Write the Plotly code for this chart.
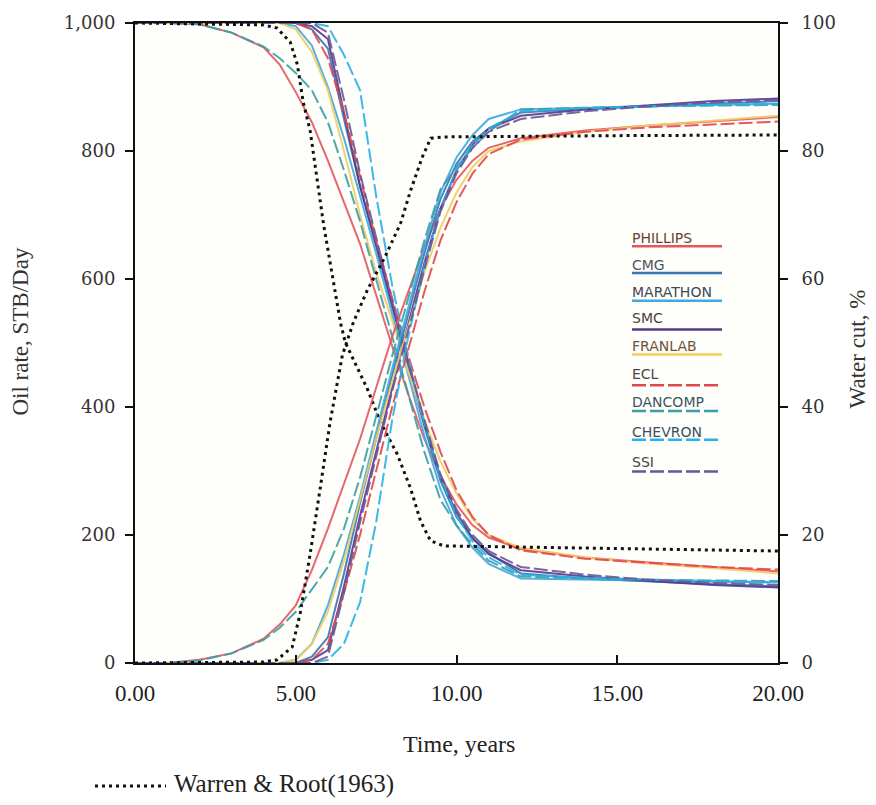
import plotly.graph_objects as go

# ---------------- data ----------------
T = [0, 1, 2, 3, 4, 4.5, 5, 5.5, 6, 6.5, 7, 7.5, 8, 8.5, 9, 9.5, 10, 10.5, 11, 12, 14, 16, 18, 20]

PHILLIPS_OIL = [1000, 1000, 998, 985, 962, 935, 892, 845, 785, 720, 655, 575, 495, 420, 350, 292, 248, 215, 196, 178, 165, 157, 150, 143]
PHILLIPS_WC = [0, 0, 0.5, 1.5, 3.8, 6, 9, 14.5, 21, 28, 35, 43, 51, 58, 65, 71, 75.5, 78.5, 80.5, 82, 83.2, 84, 84.7, 85.3]

CMG_OIL = [1000, 1000, 1000, 1000, 1000, 1000, 1000, 990, 960, 850, 745, 650, 555, 462, 370, 285, 228, 195, 172, 140, 132, 127, 123, 120]
CMG_WC = [0, 0, 0, 0, 0, 0, 0, 1, 4, 14, 25, 35, 45, 54.5, 64, 72.5, 78, 81.5, 83.5, 86, 86.6, 87, 87.4, 87.8]

MARATHON_OIL = [1000, 1000, 1000, 1000, 1000, 1000, 995, 965, 900, 820, 730, 640, 545, 450, 355, 272, 215, 180, 155, 132, 130, 128, 127, 126]
MARATHON_WC = [0, 0, 0, 0, 0, 0, 0.5, 3, 9, 17, 26, 36, 46, 55.5, 65, 73.5, 79, 82.5, 85, 86.5, 86.8, 87, 87.2, 87.4]

SMC_OIL = [1000, 1000, 1000, 1000, 1000, 1000, 1000, 995, 975, 860, 745, 655, 560, 470, 375, 290, 235, 195, 170, 145, 135, 128, 122, 118]
SMC_WC = [0, 0, 0, 0, 0, 0, 0, 0.5, 2, 12, 23, 33, 43, 53, 62.5, 71, 77, 81, 83.5, 85.5, 86.5, 87.2, 87.8, 88.2]

FRANLAB_OIL = [1000, 1000, 1000, 1000, 1000, 1000, 990, 955, 895, 800, 700, 610, 535, 455, 380, 315, 265, 225, 200, 180, 165, 155, 148, 140]
FRANLAB_WC = [0, 0, 0, 0, 0, 0, 0.5, 3, 8, 16, 25.5, 35, 44, 52.5, 61, 68, 73.5, 77.5, 80, 81.5, 83, 84, 84.8, 85.5]

ECL_OIL = [1000, 1000, 1000, 1000, 1000, 1000, 1000, 990, 945, 860, 760, 660, 570, 480, 400, 330, 270, 228, 200, 176, 163, 156, 150, 146]
ECL_WC = [0, 0, 0, 0, 0, 0, 0, 0.5, 3, 11, 20, 30, 40, 49, 58, 66, 72, 76.5, 79.5, 81.8, 83, 83.7, 84.2, 84.6]

DANCOMP_OIL = [1000, 1000, 998, 985, 963, 945, 922, 895, 845, 770, 690, 600, 510, 420, 330, 255, 215, 185, 160, 135, 132, 130, 129, 128]
DANCOMP_WC = [0, 0, 0.4, 1.5, 3.6, 5.5, 8, 11.5, 15, 21, 29, 38.5, 48, 57, 66, 74, 77.5, 80.5, 83, 86.5, 86.8, 87, 87.1, 87.2]

CHEVRON_OIL = [1000, 1000, 1000, 1000, 1000, 1000, 1000, 1000, 995, 950, 895, 730, 590, 475, 375, 290, 230, 190, 165, 138, 133, 130, 128, 126]
CHEVRON_WC = [0, 0, 0, 0, 0, 0, 0, 0, 0.5, 3, 9.5, 22, 38, 51, 62, 71, 77, 81, 83.5, 86.2, 86.7, 87, 87.2, 87.4]

SSI_OIL = [1000, 1000, 1000, 1000, 1000, 1000, 1000, 1000, 985, 880, 765, 665, 565, 470, 380, 295, 240, 200, 175, 150, 138, 130, 125, 122]
SSI_WC = [0, 0, 0, 0, 0, 0, 0, 0, 1, 11, 22, 32.5, 42.5, 52, 61.5, 70.5, 76.5, 80.5, 83, 85, 86.2, 87, 87.6, 88]

WR_T_OIL = [0, 4.0, 4.42, 4.83, 5.05, 5.23, 5.45, 5.86, 6.39, 6.54, 7.23, 7.63, 8.16, 8.57, 8.88, 9.19, 9.6, 12, 15, 20]
WR_OIL = [1000, 997, 992, 970, 935, 877, 831, 687, 532, 501, 428, 377, 326, 273, 222, 191, 183, 181, 179, 175]
WR_T_WC = [0, 3.99, 4.42, 4.89, 5.14, 5.45, 5.76, 6.07, 6.45, 6.79, 7.23, 7.79, 8.26, 8.57, 8.94, 9.2, 9.6, 12, 15, 20]
WR_WC = [0, 0.15, 0.5, 2.5, 7.8, 17.1, 27.3, 37.7, 48.1, 53.2, 58.3, 63.6, 68.7, 73.8, 79.1, 82.0, 82.2, 82.3, 82.4, 82.5]

NAMES = ["PHILLIPS", "CMG", "MARATHON", "SMC", "FRANLAB", "ECL", "DANCOMP", "CHEVRON", "SSI"]
OIL = [PHILLIPS_OIL, CMG_OIL, MARATHON_OIL, SMC_OIL, FRANLAB_OIL, ECL_OIL, DANCOMP_OIL, CHEVRON_OIL, SSI_OIL]
WC = [PHILLIPS_WC, CMG_WC, MARATHON_WC, SMC_WC, FRANLAB_WC, ECL_WC, DANCOMP_WC, CHEVRON_WC, SSI_WC]
COLORS = ["#e4575f", "#3577b5", "#3fa9e0", "#55388a", "#f1cd62", "#e2474f", "#3a9fa6", "#27b2e8", "#6b5597"]
DASHES = ["solid", "solid", "solid", "solid", "solid", "14px,4px", "14px,4px", "14px,4px", "14px,4px"]
TEXT_COLORS = ["#6e3e32", "#4e545c", "#3e4954", "#4e3e3c", "#6e5436", "#4e4444", "#3e5464", "#3e4e5e", "#44444c"]
LEG_TEXT_Y = [235, 262, 289, 315, 344, 372, 400, 430, 460]
LEG_LINE_Y = [243, 270, 298, 327, 352, 383, 409, 438, 470]

X_TICKS = [0, 5, 10, 15, 20]

# ---------------- figure ----------------
fig = go.Figure()
for name, oil, wc, c, d in zip(NAMES, OIL, WC, COLORS, DASHES):
    fig.add_trace(go.Scatter(x=T, y=oil, mode="lines", name=name, showlegend=False,
                             line=dict(color=c, width=2, dash=d), opacity=0.9, yaxis="y"))
    fig.add_trace(go.Scatter(x=T, y=wc, mode="lines", name=name, showlegend=False,
                             line=dict(color=c, width=2, dash=d), opacity=0.9, yaxis="y2"))

fig.add_trace(go.Scatter(x=WR_T_OIL, y=WR_OIL, mode="lines", showlegend=False,
                         line=dict(color="#111", width=3, dash="3px,4px"), yaxis="y"))
fig.add_trace(go.Scatter(x=WR_T_WC, y=WR_WC, mode="lines", showlegend=False,
                         line=dict(color="#111", width=3, dash="3px,4px"), yaxis="y2"))

L, R, TOP, BOT = 135, 778, 18, 663
PW, PH = R - L, BOT - TOP


def px(x):
    return (x - L) / PW


def py(y):
    return (BOT - y) / PH


shapes = []
annotations = []
for name, c, d, tc, ty, ly in zip(NAMES, COLORS, DASHES, TEXT_COLORS, LEG_TEXT_Y, LEG_LINE_Y):
    shapes.append(dict(type="line", xref="paper", yref="paper", x0=px(632), x1=px(722),
                       y0=py(ly), y1=py(ly), line=dict(color=c, width=2.5, dash=d)))
    annotations.append(dict(text=name, xref="paper", yref="paper", x=px(630), y=py(ty),
                            xanchor="left", yanchor="middle", showarrow=False,
                            font=dict(family="DejaVu Sans", size=14, color=tc)))

# bottom legend for Warren & Root
shapes.append(dict(type="line", xref="paper", yref="paper", x0=px(95), x1=px(166),
                   y0=py(787), y1=py(787), line=dict(color="#111", width=3, dash="3px,4px")))
annotations.append(dict(text="Warren & Root(1963)", xref="paper", yref="paper", x=px(172), y=py(785),
                        xanchor="left", yanchor="middle", showarrow=False,
                        font=dict(family="Liberation Serif", size=25, color="#222")))
annotations.append(dict(text="Time, years", xref="paper", yref="paper", x=px(459), y=py(745),
                        xanchor="center", yanchor="middle", showarrow=False,
                        font=dict(family="Liberation Serif", size=24, color="#222")))
annotations.append(dict(text="Oil rate, STB/Day", xref="paper", yref="paper", x=px(21), y=py(329),
                        xanchor="center", yanchor="middle", showarrow=False, textangle=-90,
                        font=dict(family="Liberation Serif", size=23, color="#333")))
annotations.append(dict(text="Water cut, %", xref="paper", yref="paper", x=px(857), y=py(347),
                        xanchor="center", yanchor="middle", showarrow=False, textangle=-90,
                        font=dict(family="Liberation Serif", size=23, color="#333")))

fig.update_layout(
    width=876, height=805, autosize=False,
    margin=dict(l=L, r=876 - R, t=TOP, b=805 - BOT, pad=0),
    paper_bgcolor="#ffffff", plot_bgcolor="#fefefa",
    shapes=shapes, annotations=annotations, showlegend=False,
    xaxis=dict(range=[0, 20], tickvals=X_TICKS, tickformat=".2f", ticks="inside", ticklen=8,
               tickwidth=2, tickcolor="#111", showline=True, linecolor="#111", linewidth=2,
               mirror=True, showgrid=False, zeroline=False, ticklabelstandoff=8,
               tickfont=dict(family="Liberation Serif", size=23, color="#222")),
    yaxis=dict(range=[0, 1000], dtick=200, tickformat=",", ticks="outside", ticklen=8,
               tickwidth=2, tickcolor="#111", showline=True, linecolor="#111", linewidth=2,
               showgrid=False, zeroline=False, ticklabelstandoff=6,
               tickfont=dict(family="DejaVu Serif", size=18, color="#333")),
    yaxis2=dict(range=[0, 100], dtick=20, overlaying="y", side="right", ticks="outside", ticklen=8,
                tickwidth=2, tickcolor="#111", showline=True, linecolor="#111", linewidth=2,
                showgrid=False, zeroline=False, ticklabelstandoff=10,
                tickfont=dict(family="DejaVu Serif", size=18, color="#333")),
)

fig.write_html("out.html")
